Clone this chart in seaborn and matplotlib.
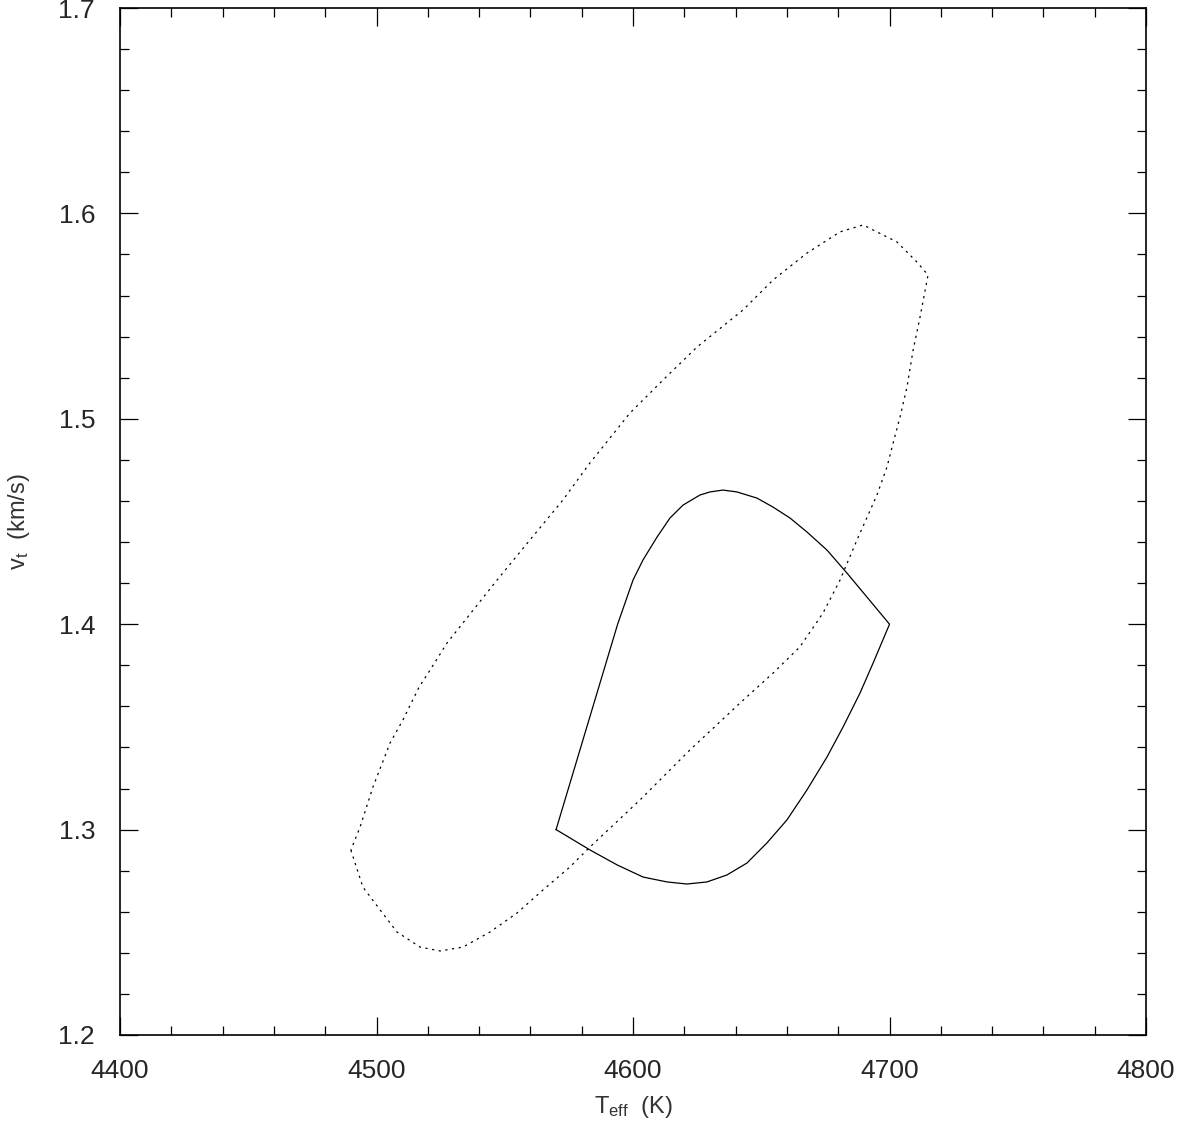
import matplotlib
matplotlib.use("Agg")
import matplotlib.pyplot as plt
import seaborn as sns
import pandas as pd
from matplotlib.ticker import MultipleLocator

# Solid contour (Teff, vt)
solid_teff = [4570, 4574.8, 4579.6, 4584.4, 4589.2, 4594.0, 4600, 4603.9, 4609.4, 4614.4,
              4619.5, 4626.1, 4630, 4635.1, 4640.5, 4648.3, 4654.6, 4661.2, 4667.8, 4675.6,
              4683.4, 4691.2, 4700, 4693.6, 4688.5, 4681.9, 4675.6, 4667.8, 4660, 4652.2,
              4644.4, 4636.6, 4628.8, 4621, 4613.3, 4603.9, 4593.8, 4583.2, 4570]
solid_vt = [1.300, 1.320, 1.340, 1.360, 1.380, 1.400, 1.4215, 1.4313, 1.4425, 1.4517,
            1.458, 1.4629, 1.4644, 1.4653, 1.4644, 1.4614, 1.457, 1.4517, 1.4449, 1.4361,
            1.4249, 1.4132, 1.400, 1.3811, 1.3665, 1.350, 1.3353, 1.3193, 1.3047, 1.2935,
            1.2837, 1.2779, 1.2745, 1.2735, 1.2745, 1.2769, 1.2828, 1.2901, 1.300]

# Dotted contour (Teff, vt)
dot_teff = [4490, 4494.7, 4501.4, 4508, 4517, 4524.8, 4533.7, 4544.2, 4554.8, 4564.9,
            4575.4, 4583.2, 4602.7, 4622.2, 4641.7, 4654.6, 4665.1, 4674.1, 4680.7, 4687.3,
            4695.1, 4699, 4701.4, 4704.1, 4706.8, 4709.2, 4711.9, 4715, 4710.7, 4702.9,
            4689.7, 4680.7, 4667.8, 4654.6, 4642.9, 4625, 4611.7, 4598.8, 4583.2, 4572.7,
            4559.8, 4547, 4533.7, 4527.5, 4520.9, 4516.6, 4510.3, 4505.3, 4498.6, 4493.6, 4490]
dot_vt = [1.290, 1.272, 1.2609, 1.2501, 1.2428, 1.2409, 1.2428, 1.2501, 1.2594, 1.2706,
          1.2818, 1.2915, 1.3144, 1.3388, 1.3616, 1.3762, 1.389, 1.4055, 1.4215, 1.441,
          1.4629, 1.4765, 1.4882, 1.5009, 1.5155, 1.5335, 1.5496, 1.570, 1.5763, 1.5861,
          1.5944, 1.591, 1.5807, 1.5676, 1.553, 1.535, 1.5189, 1.5028, 1.4785, 1.4605,
          1.441, 1.4215, 1.4006, 1.3909, 1.3777, 1.3694, 1.3534, 1.3422, 1.3207, 1.3013, 1.290]

x_ticks = [4400, 4500, 4600, 4700, 4800]
y_ticks = [1.2, 1.3, 1.4, 1.5, 1.6, 1.7]

sns.set_style("ticks")
plt.rcParams['font.family'] = ['Liberation Sans', 'DejaVu Sans']
plt.rcParams['mathtext.fontset'] = 'custom'
plt.rcParams['mathtext.rm'] = 'Liberation Sans'

fig = plt.figure(figsize=(11.87, 11.31), dpi=100)
ax = fig.add_axes([0.1011, 0.0849, 0.8644, 0.9080])

df_s = pd.DataFrame({"Teff": solid_teff, "vt": solid_vt})
df_d = pd.DataFrame({"Teff": dot_teff, "vt": dot_vt})

sns.lineplot(data=df_d, x="Teff", y="vt", sort=False, estimator=None, ax=ax,
             color="black", linewidth=0.9)
ax.lines[-1].set_dashes((1.8, 3.6))
sns.lineplot(data=df_s, x="Teff", y="vt", sort=False, estimator=None, ax=ax,
             color="black", linewidth=0.9)

ax.set_xlim(4400, 4800)
ax.set_ylim(1.2, 1.7)
ax.set_xticks(x_ticks)
ax.set_yticks(y_ticks)
ax.set_xticklabels([str(v) for v in x_ticks])
ax.set_yticklabels([f"{v:.1f}" for v in y_ticks])
ax.xaxis.set_minor_locator(MultipleLocator(20))
ax.yaxis.set_minor_locator(MultipleLocator(0.02))

ax.tick_params(which="both", direction="in", top=True, right=True, color="black")
ax.tick_params(which="major", length=13, width=0.9, labelsize=19)
ax.tick_params(axis="x", which="major", pad=17)
ax.tick_params(axis="y", which="major", pad=18)
ax.tick_params(which="minor", length=6.5, width=0.9)
for s in ax.spines.values():
    s.set_linewidth(1.2)
    s.set_color("black")

ax.set_xlabel(r"$\mathregular{T_{eff}}$  (K)", fontsize=17, color="#333333", labelpad=8)
ax.set_ylabel(r"$\mathregular{v_{t}}$  (km/s)", fontsize=17, color="#333333", labelpad=19)

fig.savefig("out.png", dpi=100, facecolor="white")
